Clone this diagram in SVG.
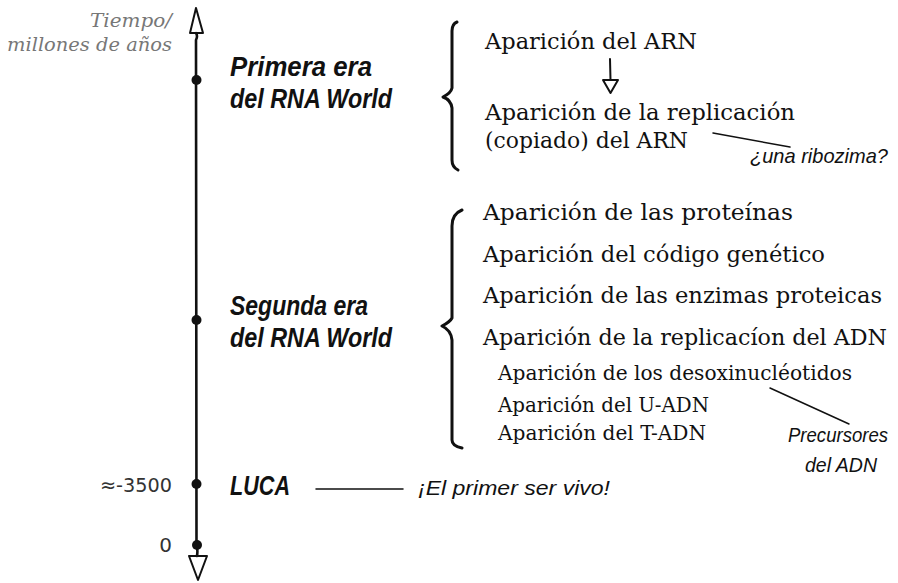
<svg xmlns="http://www.w3.org/2000/svg" width="898" height="583" viewBox="0 0 898 583">
<style>
.ser{font-family:"DejaVu Serif","Liberation Serif",serif;fill:#111;}
.big{font-size:22px;}
.small{font-size:19.5px;}
.hand{font-family:"Liberation Sans","DejaVu Sans",sans-serif;font-style:italic;fill:#111;}
.era{font-size:27px;font-weight:bold;}
.note{font-size:21px;}
.axislab{font-family:"DejaVu Serif",serif;font-style:italic;font-size:19px;fill:#777;}
.num{font-family:"DejaVu Sans","Noto Sans",sans-serif;font-size:20px;fill:#333;}
.ln{stroke:#111;fill:none;stroke-linecap:round;stroke-linejoin:round;}
</style>
<rect width="898" height="583" fill="#fff"/>
<g id="connectors">
<path class="ln" stroke-width="2.6" d="M196,33 Q198,36 196,40 L196.5,545 Q198,550 197,556"/>
<path class="ln" stroke-width="2" fill="#fff" d="M196,8 L190,33 L203,33 Z"/>
<path class="ln" stroke-width="2" fill="#fff" d="M189,556 L207,556 L198,580 Z"/>
<circle cx="196.5" cy="80" r="5" fill="#111"/>
<circle cx="196.5" cy="320" r="5" fill="#111"/>
<circle cx="196.5" cy="484" r="5" fill="#111"/>
<circle cx="197" cy="545" r="5" fill="#111"/>
<path class="ln" stroke-width="2" d="M610,59 L610.5,80"/>
<path class="ln" stroke-width="2" fill="#fff" d="M603,80 L618,80 L610.5,93 Z"/>
<path class="ln" stroke-width="1.5" d="M713,133 L790,147"/>
<path class="ln" stroke-width="1.5" d="M770,388 L849,424"/>
<path class="ln" stroke-width="1.5" d="M316,489 L403,489"/>
<path class="ln" stroke-width="3" d="M457,22 Q452,24 452,31 L452,88 Q451,93 443,97 Q451,100 452,108 L452,160 Q452,167 458,170"/>
<path class="ln" stroke-width="3" d="M462,210 Q452,214 452,226 L452,318 Q450,322 442,326 Q451,330 452,340 L452,440 Q452,446 462,448"/>
</g>
<g id="axis-label">
<text class="axislab" x="172" y="27" text-anchor="end" textLength="82" lengthAdjust="spacingAndGlyphs">Tiempo/</text>
<text class="axislab" x="172" y="51" text-anchor="end" textLength="165" lengthAdjust="spacingAndGlyphs">millones de años</text>
</g>
<g id="era1">
<text class="hand era" x="230" y="76" textLength="142" lengthAdjust="spacingAndGlyphs">Primera era</text>
<text class="hand era" x="230" y="108" textLength="162" lengthAdjust="spacingAndGlyphs">del RNA World</text>
</g>
<g id="era2">
<text class="hand era" x="230" y="315" textLength="138" lengthAdjust="spacingAndGlyphs">Segunda era</text>
<text class="hand era" x="230" y="347" textLength="162" lengthAdjust="spacingAndGlyphs">del RNA World</text>
</g>
<g id="luca">
<text class="hand era" x="230" y="495" textLength="60" lengthAdjust="spacingAndGlyphs">LUCA</text>
<text class="num" x="172" y="492" text-anchor="end" textLength="72" lengthAdjust="spacingAndGlyphs">≈-3500</text>
</g>
<g id="zero">
<text class="num" x="172" y="552" text-anchor="end">0</text>
</g>
<g id="first-being">
<text class="hand note" x="418" y="495" textLength="192" lengthAdjust="spacingAndGlyphs">¡El primer ser vivo!</text>
</g>
<g id="arn">
<text class="ser big" x="485" y="49" textLength="212" lengthAdjust="spacingAndGlyphs">Aparición del ARN</text>
</g>
<g id="replicacion-arn">
<text class="ser big" x="485" y="120" textLength="310" lengthAdjust="spacingAndGlyphs">Aparición de la replicación</text>
<text class="ser big" x="485" y="148" textLength="203" lengthAdjust="spacingAndGlyphs">(copiado) del ARN</text>
</g>
<g id="ribozima">
<text class="hand note" x="750" y="163" textLength="138" lengthAdjust="spacingAndGlyphs">¿una ribozima?</text>
</g>
<g id="proteinas">
<text class="ser big" x="483" y="220" textLength="310" lengthAdjust="spacingAndGlyphs">Aparición de las proteínas</text>
</g>
<g id="codigo">
<text class="ser big" x="483" y="262" textLength="342" lengthAdjust="spacingAndGlyphs">Aparición del código genético</text>
</g>
<g id="enzimas">
<text class="ser big" x="483" y="303" textLength="399" lengthAdjust="spacingAndGlyphs">Aparición de las enzimas proteicas</text>
</g>
<g id="replicacion-adn">
<text class="ser big" x="483" y="345" textLength="404" lengthAdjust="spacingAndGlyphs">Aparición de la replicacíon del ADN</text>
</g>
<g id="desoxi">
<text class="ser small" x="498" y="380" textLength="354" lengthAdjust="spacingAndGlyphs">Aparición de los desoxinucléotidos</text>
</g>
<g id="u-adn">
<text class="ser small" x="498" y="412" textLength="211" lengthAdjust="spacingAndGlyphs">Aparición del U-ADN</text>
</g>
<g id="t-adn">
<text class="ser small" x="498" y="440" textLength="208" lengthAdjust="spacingAndGlyphs">Aparición del T-ADN</text>
</g>
<g id="precursores">
<text class="hand note" x="788" y="442" textLength="100" lengthAdjust="spacingAndGlyphs">Precursores</text>
<text class="hand note" x="805" y="472" textLength="72" lengthAdjust="spacingAndGlyphs">del ADN</text>
</g>
</svg>
